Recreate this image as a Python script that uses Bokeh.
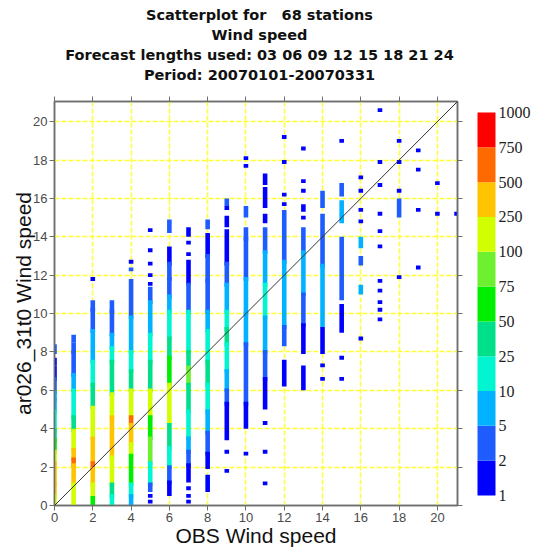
import numpy as np
from bokeh.plotting import figure
from bokeh.layouts import row, column
from bokeh.models import Range1d, FixedTicker, LinearAxis, Slope, ColumnDataSource
from bokeh.core.properties import value
from bokeh.embed import file_html
from bokeh.resources import INLINE

# Forecast wind speed ranges per observed wind speed bin: (low, high, number of cases)
runs_00 = [(8.0, 8.3, 3), (7.4, 7.6, 1), (6.6, 7.2, 1), (5.9, 6.6, 3), (5.5, 5.9, 7), (4.9, 5.5, 7),
           (3.9, 4.9, 15), (3.4, 3.9, 35), (2.8, 3.4, 60), (2.2, 2.8, 150), (1.1, 2.2, 350),
           (0.5, 1.1, 350), (0.0, 0.5, 150)]
runs_01 = [(8.6, 8.8, 3), (8.0, 8.4, 3), (6.8, 8.0, 3), (6.0, 6.8, 7), (4.6, 6.0, 15), (3.9, 4.6, 35),
           (2.9, 3.9, 150), (2.4, 2.9, 350), (2.1, 2.4, 600), (1.1, 2.1, 350), (0.0, 1.1, 150)]
runs_02 = [(11.8, 11.8, 1), (10.2, 10.6, 3), (9.1, 10.2, 3), (7.5, 9.1, 7), (6.3, 7.5, 15), (5.1, 6.3, 35),
           (3.5, 5.1, 150), (2.3, 3.5, 350), (1.9, 2.2, 600), (1.1, 1.9, 350), (0.4, 1.1, 150), (0.0, 0.4, 60)]
runs_03 = [(10.1, 10.6, 3), (8.9, 10.1, 3), (8.2, 8.9, 7), (7.5, 8.2, 15), (5.8, 7.5, 35), (4.6, 5.8, 150),
           (2.5, 4.6, 350), (1.1, 2.5, 150), (0.5, 1.1, 35), (0.0, 0.5, 15)]
runs_04 = [(12.7, 12.7, 1), (12.3, 12.3, 3), (9.8, 11.7, 3), (8.0, 9.8, 7), (7.0, 8.0, 15), (6.0, 7.0, 35),
           (4.6, 6.0, 150), (4.3, 4.6, 600), (3.2, 4.2, 350), (2.6, 3.2, 150), (1.1, 2.6, 60),
           (0.5, 1.1, 15), (0.0, 0.5, 7)]
runs_05 = [(14.35, 14.35, 1), (13.3, 13.3, 1), (12.6, 12.6, 1), (12.0, 12.0, 1), (11.55, 11.55, 1),
           (10.6, 11.3, 3), (8.9, 10.6, 7), (7.5, 8.9, 15), (6.0, 7.5, 35), (4.6, 6.0, 150), (3.5, 4.6, 60),
           (2.2, 3.5, 85), (1.1, 2.2, 15), (0.8, 1.1, 3), (0.5, 0.5, 1), (0.2, 0.2, 1)]
runs_06 = [(14.3, 14.8, 3), (12.6, 13.4, 1), (11.8, 12.6, 3), (10.9, 11.8, 3), (10.1, 10.9, 7),
           (8.7, 10.1, 15), (7.7, 8.7, 35), (6.3, 7.7, 60), (4.2, 6.3, 150), (3.0, 4.2, 35),
           (2.0, 3.0, 15), (1.2, 2.0, 3), (0.6, 1.2, 1)]
runs_07 = [(14.1, 14.4, 1), (13.7, 13.7, 1), (13.1, 13.1, 1), (11.6, 12.7, 1), (10.1, 11.5, 3),
           (8.0, 10.1, 15), (7.2, 8.0, 35), (6.3, 7.2, 85), (4.9, 6.3, 35), (3.5, 4.9, 15), (2.8, 3.5, 7),
           (2.1, 2.8, 3), (1.3, 2.1, 1), (0.9, 0.9, 1), (0.5, 0.5, 1), (0.2, 0.2, 1)]
runs_08 = [(14.5, 14.8, 3), (13.0, 14.1, 1), (11.7, 13.0, 3), (10.1, 11.7, 3), (9.1, 10.1, 7),
           (7.5, 9.1, 15), (6.3, 7.5, 35), (4.9, 6.3, 15), (3.8, 4.9, 7), (2.7, 3.8, 3), (2.0, 2.7, 1),
           (0.8, 1.5, 1)]
runs_09 = [(15.7, 15.9, 3), (15.5, 15.5, 1), (14.6, 15.0, 1), (12.6, 14.3, 1), (11.5, 12.6, 3),
           (10.1, 11.5, 7), (9.2, 10.1, 15), (8.4, 9.2, 35), (7.0, 8.4, 15), (6.0, 7.0, 7), (5.3, 6.0, 3),
           (3.5, 5.3, 1), (2.8, 2.8, 1), (1.8, 1.8, 1)]
runs_10 = [(18.1, 18.1, 1), (17.7, 17.7, 1), (15.1, 15.5, 3), (13.9, 14.4, 3), (11.8, 13.9, 3),
           (10.0, 11.8, 7), (8.4, 10.0, 7), (5.3, 8.4, 3), (4.1, 5.3, 1), (2.7, 2.7, 1)]
runs_11 = [(16.8, 17.2, 1), (15.6, 16.5, 1), (14.8, 15.1, 1), (13.2, 14.4, 3), (11.5, 13.2, 7),
           (9.8, 11.5, 15), (8.0, 9.8, 7), (6.6, 8.0, 3), (5.1, 6.6, 1), (4.3, 4.3, 1), (2.8, 2.8, 1),
           (1.15, 1.15, 1)]
runs_12 = [(19.2, 19.2, 1), (17.9, 17.9, 1), (16.2, 16.2, 1), (15.7, 15.7, 1), (12.7, 15.3, 3),
           (9.3, 12.7, 7), (8.4, 9.3, 3), (6.3, 7.5, 1)]
runs_13 = [(18.6, 18.6, 1), (16.9, 16.9, 1), (16.4, 16.4, 1), (15.4, 15.6, 1), (15.0, 15.0, 1),
           (13.2, 14.4, 3), (11.0, 13.2, 7), (9.4, 11.0, 3), (8.0, 9.4, 1), (6.1, 7.2, 1)]
runs_14 = [(15.6, 16.3, 3), (12.5, 15.1, 3), (9.4, 12.5, 7), (8.0, 9.2, 1), (7.3, 7.3, 1), (6.6, 6.6, 1)]
runs_15 = [(19.0, 19.0, 1), (16.2, 16.7, 3), (14.8, 15.8, 7), (10.8, 13.9, 3), (9.1, 10.4, 1),
           (7.7, 7.7, 1), (6.6, 6.6, 1)]
runs_16 = [(17.1, 17.1, 1), (16.4, 16.4, 1), (15.4, 15.4, 1), (14.8, 14.8, 1), (13.5, 13.9, 7),
           (12.6, 12.9, 3), (11.1, 11.4, 7), (8.7, 8.7, 1)]
runs_17 = [(20.6, 20.6, 1), (17.9, 17.9, 1), (16.7, 16.7, 1), (15.2, 15.2, 1), (14.3, 14.3, 1),
           (13.5, 13.5, 1), (11.7, 11.7, 1), (11.2, 11.2, 1), (10.6, 10.6, 1), (10.2, 10.2, 1),
           (9.7, 9.7, 1)]
runs_18 = [(19.0, 19.0, 1), (17.9, 17.9, 1), (16.4, 16.4, 1), (15.1, 15.9, 3), (11.9, 11.9, 1)]
runs_19 = [(18.5, 18.5, 1), (17.5, 17.5, 1), (15.4, 15.4, 1), (12.4, 12.4, 1)]
runs_20 = [(16.8, 16.8, 1), (15.2, 15.2, 1)]
runs_21 = [(15.2, 15.2, 1)]

obs_speed = list(range(22))
all_runs = [runs_00, runs_01, runs_02, runs_03, runs_04, runs_05, runs_06, runs_07, runs_08, runs_09,
            runs_10, runs_11, runs_12, runs_13, runs_14, runs_15, runs_16, runs_17, runs_18, runs_19,
            runs_20, runs_21]

# Colour classes for number of cases
count_bounds = [1, 2, 5, 10, 25, 50, 75, 100, 250, 500, 750, 1000]
count_palette = ["#0000ff", "#1f5cff", "#00b2ff", "#00f5d0", "#00e08a", "#00ee00",
                 "#6cf030", "#d2ff00", "#ffc400", "#ff6a00", "#ff0000"]

title_lines = ["Scatterplot for \u00a0\u00a068 stations", "Wind speed",
               "Forecast lengths used: 03 06 09 12 15 18 21 24", "Period: 20070101-20070331"]
x_label = "OBS Wind speed"
y_label = "ar026_31t0 Wind speed"
axis_ticks = list(range(0, 21, 2))
axis_max = 21.05

cell = 0.2      # height of one forecast-speed cell
col_w = 0.24    # width of one observed-speed column

xs, ys, hs, cols = [], [], [], []
for obs, runs in zip(obs_speed, all_runs):
    for lo, hi, n in runs:
        k = int(np.searchsorted(count_bounds, n, side="right") - 1)
        k = min(max(k, 0), len(count_palette) - 1)
        xs.append(obs)
        ys.append((lo + hi) / 2)
        hs.append(hi - lo + cell)
        cols.append(count_palette[k])
src = ColumnDataSource(dict(x=xs, y=ys, h=hs, c=cols))

W, H_TOTAL, HEAD_H = 537, 550, 94
PLOT_W = 470
BODY_H = H_TOTAL - HEAD_H
BORDER_TOP, BORDER_BOTTOM = 7, 45

# heading block: four centred lines
head = figure(width=W, height=HEAD_H, x_range=Range1d(0, W), y_range=Range1d(HEAD_H, 0),
              output_backend="svg", toolbar_location=None, x_axis_type=None, y_axis_type=None,
              min_border_left=0, min_border_right=0, min_border_top=0, min_border_bottom=0)
head.outline_line_color = None
head.xgrid.visible = False
head.ygrid.visible = False
line_step = 20
head.text(x=[259] * len(title_lines), y=[14 + line_step * i for i in range(len(title_lines))],
          text=title_lines, text_font=value("DejaVu Sans"), text_font_style="bold",
          text_font_size="14.5px", text_align="center", text_baseline="middle", text_color="#111111")

axis_col = "#6e6e6e"
p = figure(width=PLOT_W, height=BODY_H, x_range=Range1d(0, axis_max), y_range=Range1d(0, axis_max),
           output_backend="svg", toolbar_location=None,
           min_border_left=54, min_border_right=13, min_border_top=BORDER_TOP,
           min_border_bottom=BORDER_BOTTOM, x_axis_label=x_label, y_axis_label=y_label)
p.background_fill_color = "white"
p.border_fill_color = "white"
p.outline_line_color = axis_col
p.outline_line_width = 1.5
p.title.visible = False

for g in (p.xgrid[0], p.ygrid[0]):
    g.ticker = FixedTicker(ticks=axis_ticks[1:])
    g.grid_line_color = "#ffff33"
    g.grid_line_width = 1.5
    g.grid_line_dash = "5 2"

for ax in (p.xaxis[0], p.yaxis[0]):
    ax.ticker = FixedTicker(ticks=axis_ticks)
    ax.major_tick_out = 5
    ax.major_tick_in = 0
    ax.minor_tick_line_color = None
    ax.axis_line_color = axis_col
    ax.axis_line_width = 1.5
    ax.major_tick_line_color = axis_col
    ax.major_label_text_font = "Liberation Sans"
    ax.major_label_text_font_size = "13px"
    ax.major_label_text_color = "#4a4a4a"
    ax.major_label_standoff = 2
    ax.axis_label_text_font = "Liberation Sans"
    ax.axis_label_text_font_style = "normal"
    ax.axis_label_text_font_size = "21px"
    ax.axis_label_text_color = "#111111"
p.xaxis[0].axis_label_standoff = -1
p.yaxis[0].axis_label_standoff = -5

# tick marks only on the top and right edges
for side in ("above", "right"):
    ax = LinearAxis(ticker=FixedTicker(ticks=axis_ticks), major_label_text_font_size="1px",
                    major_label_text_color=None,
                    major_tick_out=5, major_tick_in=0, minor_tick_line_color=None,
                    axis_line_color=axis_col, axis_line_width=1.5, major_tick_line_color=axis_col,
                    major_label_standoff=0)
    p.add_layout(ax, side)

p.rect(x="x", y="y", width=col_w, height="h", source=src, fill_color="c", line_color=None)
p.add_layout(Slope(gradient=1, y_intercept=0, line_color="#333333", line_width=1))

# Colour key; its frame lines up with the scatter frame in the row
frame_top = HEAD_H + BORDER_TOP
frame_bot = H_TOTAL - BORDER_BOTTOM
bar_top, bar_bot = 112, 495
unit = (bar_bot - bar_top) / (len(count_bounds) - 1)
key_w = W - PLOT_W
c = figure(width=key_w, height=BODY_H, x_range=Range1d(0, key_w),
           y_range=Range1d(-(frame_bot - bar_bot) / unit, (bar_bot - frame_top) / unit),
           output_backend="svg", toolbar_location=None, x_axis_type=None, y_axis_type=None,
           min_border_left=0, min_border_right=0, min_border_top=BORDER_TOP,
           min_border_bottom=BORDER_BOTTOM)
c.outline_line_color = None
c.xgrid.visible = False
c.ygrid.visible = False
idx = np.arange(len(count_palette))
c.quad(left=7, right=25, bottom=idx, top=idx + 1, fill_color=count_palette, line_color=None)
c.text(x=[28] * len(count_bounds), y=list(range(len(count_bounds))),
       text=[str(b) for b in count_bounds], text_font=value("Liberation Serif"),
       text_font_size="16px", text_baseline="middle", text_align="left", text_color="#222222")

layout = column(head, row(p, c))
open("out.html", "w").write(file_html(layout, INLINE))
